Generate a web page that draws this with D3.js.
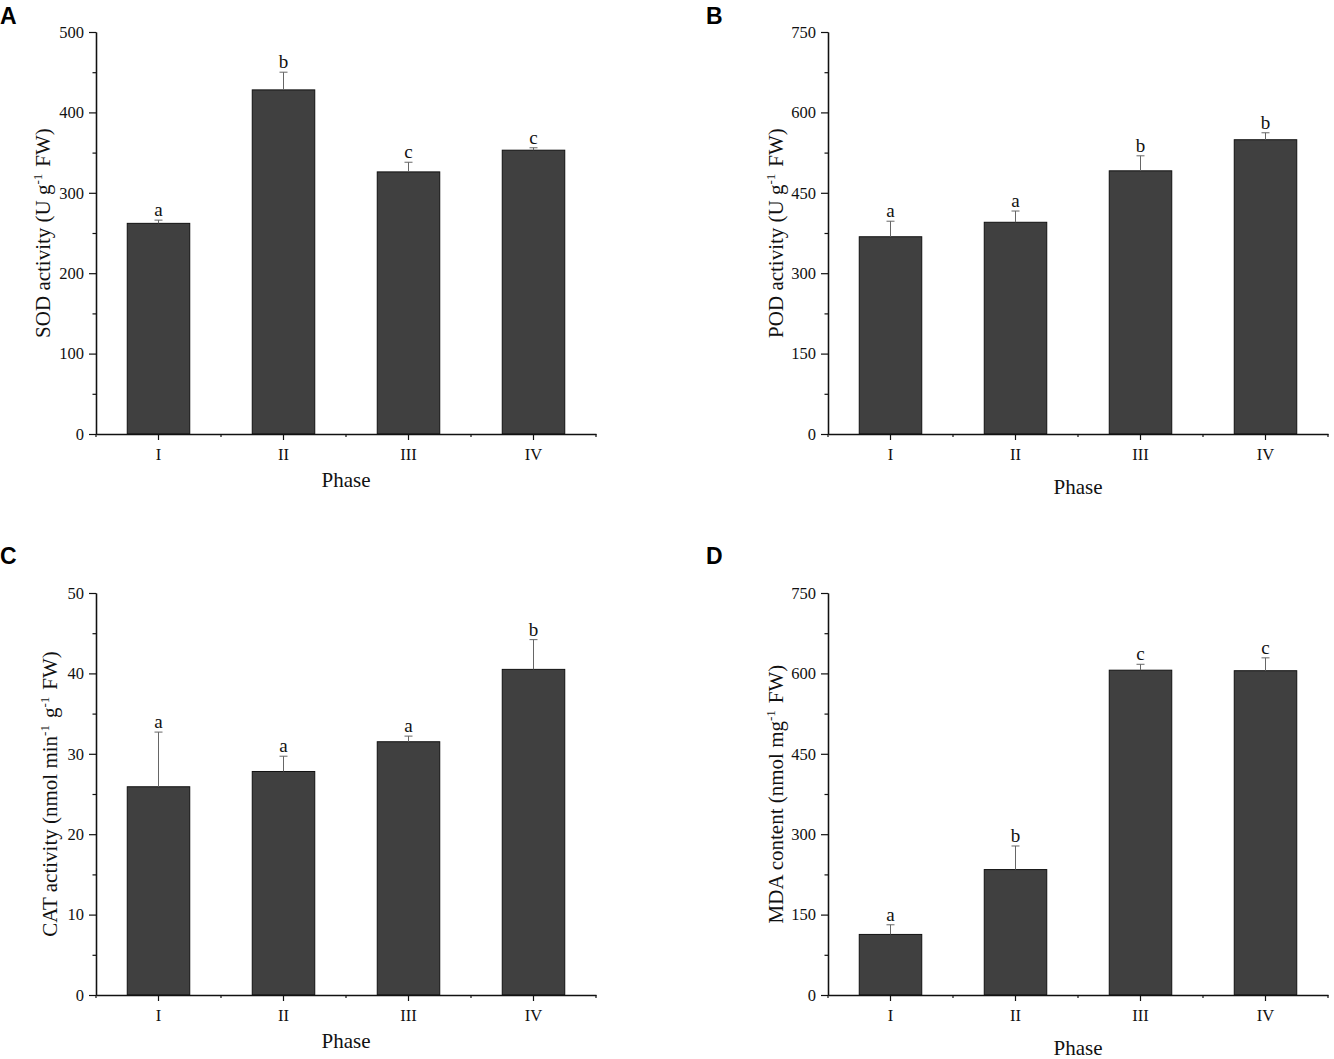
<!DOCTYPE html>
<html>
<head>
<meta charset="utf-8">
<style>
  body { margin: 0; background: #fff; }
</style>
</head>
<body>
<svg width="1334" height="1059"></svg>
<script src="https://cdn.jsdelivr.net/npm/d3@7/dist/d3.min.js"></script>
<script>
const phases = ["I", "II", "III", "IV"];

// A: SOD
const sod_mean = [262, 428, 326, 353];
const sod_err = [4, 22, 12, 3];
const sod_letters = ["a", "b", "c", "c"];
const sod_ticks = [0, 100, 200, 300, 400, 500];

// B: POD
const pod_mean = [368, 395, 491, 549];
const pod_err = [29, 21, 28, 13];
const pod_letters = ["a", "a", "b", "b"];
const pod_ticks = [0, 150, 300, 450, 600, 750];

// C: CAT
const cat_mean = [25.9, 27.8, 31.5, 40.5];
const cat_err = [6.8, 1.9, 0.7, 3.7];
const cat_letters = ["a", "a", "a", "b"];
const cat_ticks = [0, 10, 20, 30, 40, 50];

// D: MDA
const mda_mean = [113, 234, 606, 605];
const mda_err = [18, 44, 11, 24];
const mda_letters = ["a", "b", "c", "c"];
const mda_ticks = [0, 150, 300, 450, 600, 750];

let svg = d3.select("svg");

const serif = "'Liberation Serif', 'Times New Roman', serif";
const bar_fill = "#404040";
const err_color = "#666";
const plot_w = 500, plot_h = 402;

function draw_panel(p) {
  let g = svg.append("g").attr("transform", "translate(" + p.x0 + "," + p.y0 + ")");

  const x = d3.scaleBand().domain(phases).range([0, plot_w]).paddingInner(0.5).paddingOuter(0.25);
  const ymax = p.ticks[p.ticks.length - 1];
  const y = d3.scaleLinear().domain([0, ymax]).range([plot_h, 0]);
  const step = x.step();

  // minor y ticks halfway between majors
  const minors = p.ticks.slice(1).map((t, i) => (t + p.ticks[i]) / 2);

  // bars
  g.selectAll(".bar").data(p.mean).enter().append("rect")
    .attr("x", (d, i) => x(phases[i]))
    .attr("y", d => y(d))
    .attr("width", x.bandwidth())
    .attr("height", d => plot_h - y(d))
    .attr("fill", bar_fill)
    .attr("stroke", "#111")
    .attr("stroke-width", 1);

  // error bars (upper only) + letters
  p.mean.forEach((m, i) => {
    const cx = x(phases[i]) + x.bandwidth() / 2;
    const top = y(m + p.err[i]);
    g.append("line").attr("x1", cx).attr("x2", cx).attr("y1", y(m)).attr("y2", top)
      .attr("stroke", err_color).attr("stroke-width", 1);
    g.append("line").attr("x1", cx - 4).attr("x2", cx + 4).attr("y1", top).attr("y2", top)
      .attr("stroke", err_color).attr("stroke-width", 1);
    g.append("text").attr("x", cx).attr("y", top - 4)
      .attr("text-anchor", "middle")
      .style("font-family", serif).style("font-size", "19px").style("fill", "#111")
      .text(p.letters[i]);
  });

  // y axis
  let ya = g.append("g").call(d3.axisLeft(y).tickValues(p.ticks).tickSize(7).tickPadding(5).tickSizeOuter(0));
  let ym = g.append("g").call(d3.axisLeft(y).tickValues(minors).tickSize(3.5).tickFormat("").tickSizeOuter(0));

  // x axis: major ticks at centres, minor at band edges
  let xa = g.append("g").attr("transform", "translate(0," + plot_h + ")")
    .call(d3.axisBottom(x).tickSize(6).tickPadding(8).tickSizeOuter(0));
  const edges = d3.range(phases.length + 1).map(i => x(phases[0]) - x.paddingOuter() * step + i * step);
  xa.selectAll(".minor").data(edges).enter().append("line")
    .attr("x1", d => d).attr("x2", d => d).attr("y1", 0).attr("y2", 3);

  [ya, ym, xa].forEach(a => {
    a.selectAll("path").attr("stroke", "#111").attr("stroke-width", 1.3);
    a.selectAll("line").attr("stroke", "#111").attr("stroke-width", 1.2);
    a.selectAll("text").style("font-size", "16.5px").style("font-family", serif).style("fill", "#111");
  });

  // y title with superscripts
  let yt = g.append("text")
    .attr("transform", "translate(" + (-p.ytitle_dx) + "," + (plot_h / 2) + ") rotate(-90)")
    .attr("text-anchor", "middle")
    .style("font-family", serif).style("font-size", "21px").style("fill", "#111");
  p.ytitle.forEach(part => {
    if (part.sup) {
      yt.append("tspan").style("font-size", "13px").attr("dy", -8).text(part.t);
      yt.append("tspan").attr("dy", 8).text("\u200a");
    } else {
      yt.append("tspan").text(part.t);
    }
  });

  // x title
  g.append("text").attr("x", plot_w / 2).attr("y", plot_h + p.xtitle_dy)
    .attr("text-anchor", "middle")
    .style("font-family", serif).style("font-size", "21px").style("fill", "#111")
    .text("Phase");

  // panel letter
  svg.append("text").attr("x", p.lx).attr("y", p.ly)
    .style("font-family", "'Liberation Sans', Arial, sans-serif")
    .style("font-weight", "bold").style("font-size", "23px").style("fill", "#000")
    .text(p.label);
}

draw_panel({x0: 96, y0: 32, mean: sod_mean, err: sod_err, letters: sod_letters, ticks: sod_ticks,
  ytitle: [{t: "SOD activity (U g"}, {t: "-1", sup: true}, {t: " FW)"}],
  ytitle_dx: 46, xtitle_dy: 53, label: "A", lx: 0, ly: 24});

draw_panel({x0: 828, y0: 32, mean: pod_mean, err: pod_err, letters: pod_letters, ticks: pod_ticks,
  ytitle: [{t: "POD activity (U g"}, {t: "-1", sup: true}, {t: " FW)"}],
  ytitle_dx: 45, xtitle_dy: 60, label: "B", lx: 706, ly: 24});

draw_panel({x0: 96, y0: 593, mean: cat_mean, err: cat_err, letters: cat_letters, ticks: cat_ticks,
  ytitle: [{t: "CAT activity (nmol min"}, {t: "-1", sup: true}, {t: " g"}, {t: "-1", sup: true}, {t: " FW)"}],
  ytitle_dx: 39, xtitle_dy: 53, label: "C", lx: 0, ly: 564});

draw_panel({x0: 828, y0: 593, mean: mda_mean, err: mda_err, letters: mda_letters, ticks: mda_ticks,
  ytitle: [{t: "MDA content (nmol mg"}, {t: "-1", sup: true}, {t: " FW)"}],
  ytitle_dx: 45, xtitle_dy: 60, label: "D", lx: 706, ly: 564});
</script>
</body>
</html>
